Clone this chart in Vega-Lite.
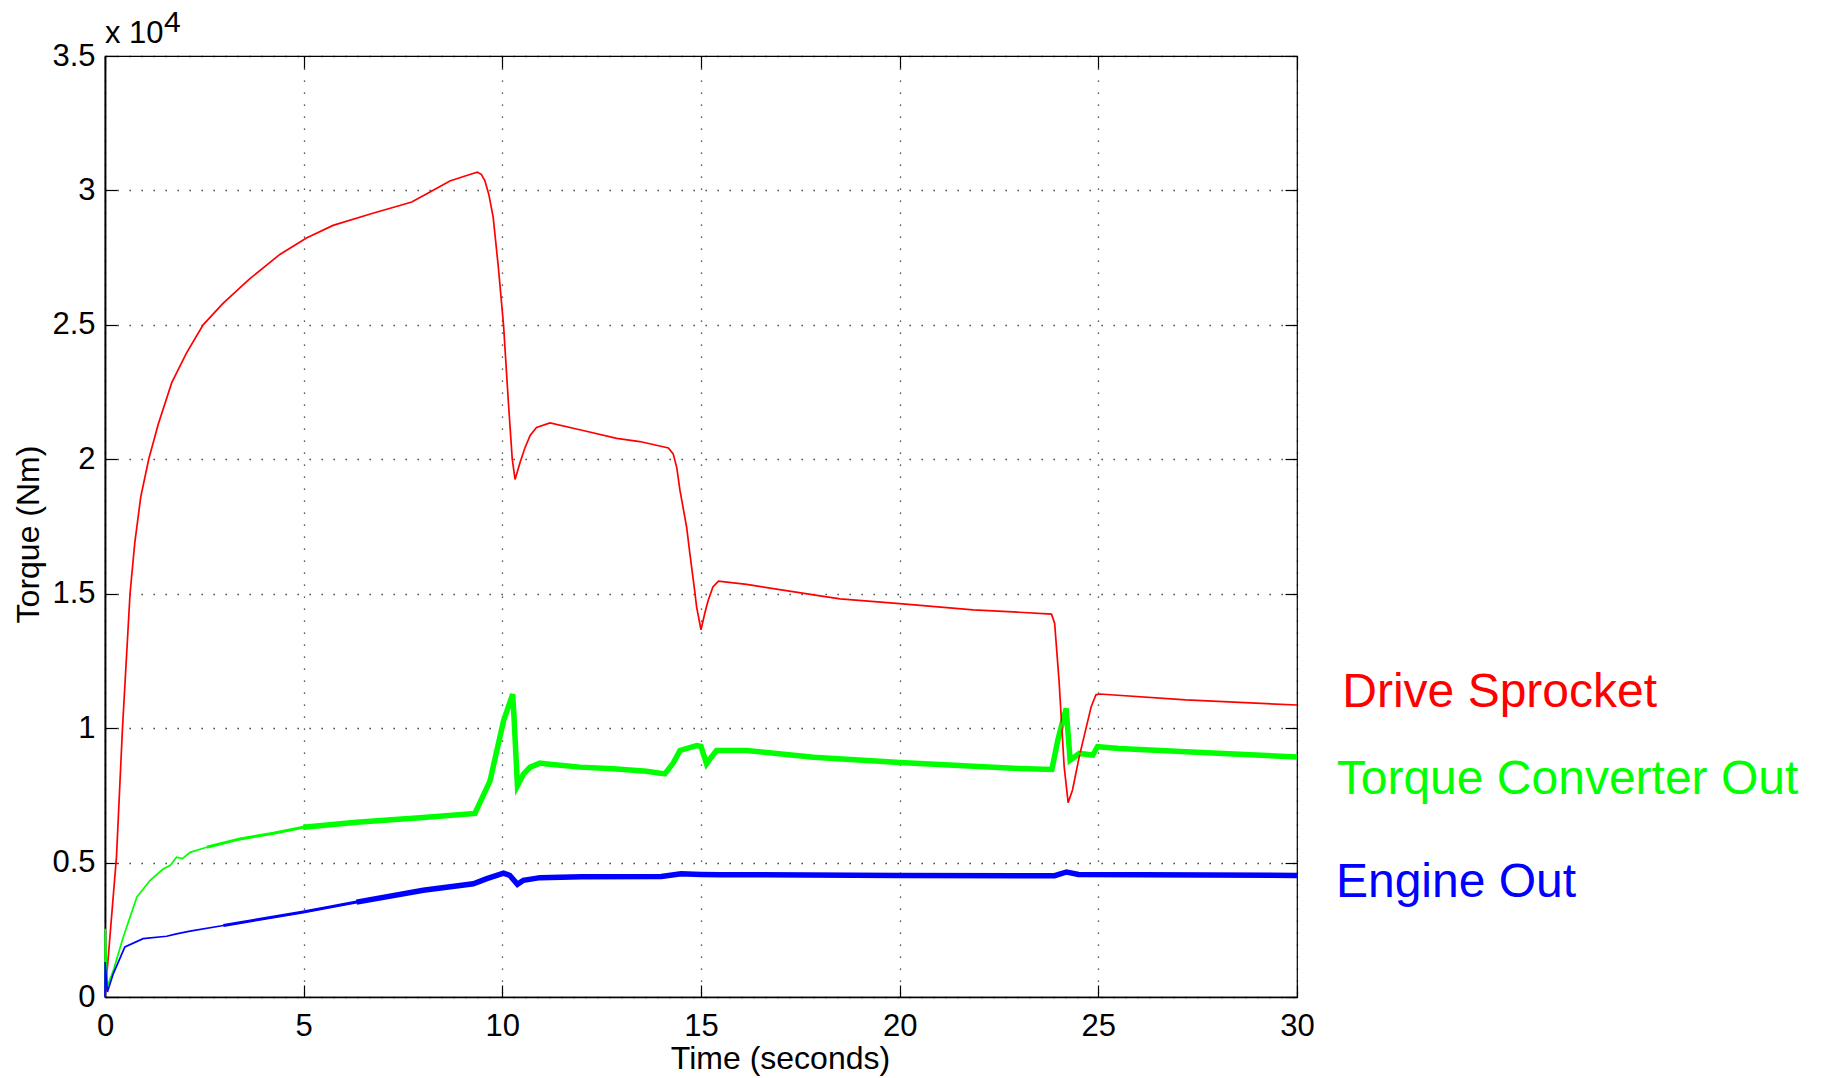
{
  "$schema": "https://vega.github.io/schema/vega-lite/v6.json",
  "width": 1192,
  "height": 941,
  "autosize": {"type": "none"},
  "padding": {"left": 105, "top": 56, "right": 530, "bottom": 81},
  "background": "white",
  "config": {
    "font": "Liberation Sans",
    "view": {"stroke": "#000", "strokeWidth": 1.2},
    "axis": {
      "labelFont": "Liberation Sans", "labelFontSize": 31, "labelColor": "#000",
      "titleFont": "Liberation Sans", "titleFontSize": 32, "titleFontWeight": "normal", "titleColor": "#000",
      "domainColor": "#000", "tickColor": "#000", "tickSize": -12, "tickWidth": 1.2,
      "gridColor": "#000", "gridDash": [1.3, 10.7], "gridWidth": 1.3, "gridOpacity": 0.85,
      "labelFlush": false, "labelOverlap": false
    }
  },
  "datasets": {
    "curves": [
      {"series": "Drive Sprocket", "t": 0, "v": 0},
      {"series": "Drive Sprocket", "t": 0.29, "v": 5240},
      {"series": "Drive Sprocket", "t": 0.44, "v": 10000},
      {"series": "Drive Sprocket", "t": 0.63, "v": 15000},
      {"series": "Drive Sprocket", "t": 0.75, "v": 16900},
      {"series": "Drive Sprocket", "t": 0.9, "v": 18600},
      {"series": "Drive Sprocket", "t": 1.1, "v": 20000},
      {"series": "Drive Sprocket", "t": 1.34, "v": 21300},
      {"series": "Drive Sprocket", "t": 1.68, "v": 22850},
      {"series": "Drive Sprocket", "t": 2.05, "v": 23950},
      {"series": "Drive Sprocket", "t": 2.47, "v": 25000},
      {"series": "Drive Sprocket", "t": 2.97, "v": 25800},
      {"series": "Drive Sprocket", "t": 3.64, "v": 26710},
      {"series": "Drive Sprocket", "t": 4.4, "v": 27620},
      {"series": "Drive Sprocket", "t": 5.07, "v": 28230},
      {"series": "Drive Sprocket", "t": 5.74, "v": 28700},
      {"series": "Drive Sprocket", "t": 6.74, "v": 29150},
      {"series": "Drive Sprocket", "t": 7.42, "v": 29440},
      {"series": "Drive Sprocket", "t": 7.72, "v": 29570},
      {"series": "Drive Sprocket", "t": 8.18, "v": 29940},
      {"series": "Drive Sprocket", "t": 8.68, "v": 30350},
      {"series": "Drive Sprocket", "t": 9.2, "v": 30600},
      {"series": "Drive Sprocket", "t": 9.37, "v": 30680},
      {"series": "Drive Sprocket", "t": 9.47, "v": 30600},
      {"series": "Drive Sprocket", "t": 9.56, "v": 30370},
      {"series": "Drive Sprocket", "t": 9.66, "v": 29850},
      {"series": "Drive Sprocket", "t": 9.77, "v": 29000},
      {"series": "Drive Sprocket", "t": 9.9, "v": 27140},
      {"series": "Drive Sprocket", "t": 10.03, "v": 25000},
      {"series": "Drive Sprocket", "t": 10.15, "v": 22170},
      {"series": "Drive Sprocket", "t": 10.25, "v": 20000},
      {"series": "Drive Sprocket", "t": 10.32, "v": 19250},
      {"series": "Drive Sprocket", "t": 10.45, "v": 19900},
      {"series": "Drive Sprocket", "t": 10.57, "v": 20430},
      {"series": "Drive Sprocket", "t": 10.7, "v": 20890},
      {"series": "Drive Sprocket", "t": 10.86, "v": 21180},
      {"series": "Drive Sprocket", "t": 11.2, "v": 21350},
      {"series": "Drive Sprocket", "t": 11.95, "v": 21100},
      {"series": "Drive Sprocket", "t": 12.88, "v": 20780},
      {"series": "Drive Sprocket", "t": 13.46, "v": 20660},
      {"series": "Drive Sprocket", "t": 14.18, "v": 20420},
      {"series": "Drive Sprocket", "t": 14.3, "v": 20200},
      {"series": "Drive Sprocket", "t": 14.39, "v": 19690},
      {"series": "Drive Sprocket", "t": 14.47, "v": 18850},
      {"series": "Drive Sprocket", "t": 14.64, "v": 17460},
      {"series": "Drive Sprocket", "t": 14.72, "v": 16490},
      {"series": "Drive Sprocket", "t": 14.85, "v": 15000},
      {"series": "Drive Sprocket", "t": 14.89, "v": 14500},
      {"series": "Drive Sprocket", "t": 15.0, "v": 13660},
      {"series": "Drive Sprocket", "t": 15.1, "v": 14300},
      {"series": "Drive Sprocket", "t": 15.18, "v": 14750},
      {"series": "Drive Sprocket", "t": 15.3, "v": 15250},
      {"series": "Drive Sprocket", "t": 15.44, "v": 15470},
      {"series": "Drive Sprocket", "t": 16.15, "v": 15350},
      {"series": "Drive Sprocket", "t": 16.82, "v": 15190},
      {"series": "Drive Sprocket", "t": 18.0, "v": 14920},
      {"series": "Drive Sprocket", "t": 18.5, "v": 14810},
      {"series": "Drive Sprocket", "t": 20, "v": 14630},
      {"series": "Drive Sprocket", "t": 21.85, "v": 14400},
      {"series": "Drive Sprocket", "t": 23.01, "v": 14310},
      {"series": "Drive Sprocket", "t": 23.82, "v": 14240},
      {"series": "Drive Sprocket", "t": 23.9, "v": 13900},
      {"series": "Drive Sprocket", "t": 24.01, "v": 11790},
      {"series": "Drive Sprocket", "t": 24.14, "v": 8570},
      {"series": "Drive Sprocket", "t": 24.24, "v": 7230},
      {"series": "Drive Sprocket", "t": 24.35, "v": 7700},
      {"series": "Drive Sprocket", "t": 24.52, "v": 8940},
      {"series": "Drive Sprocket", "t": 24.82, "v": 10800},
      {"series": "Drive Sprocket", "t": 24.94, "v": 11240},
      {"series": "Drive Sprocket", "t": 25.03, "v": 11270},
      {"series": "Drive Sprocket", "t": 27.2, "v": 11050},
      {"series": "Drive Sprocket", "t": 30, "v": 10860},

      {"series": "Torque Converter Out", "t": 0, "v": 0},
      {"series": "Torque Converter Out", "t": 0.005, "v": 2540},
      {"series": "Torque Converter Out", "t": 0.06, "v": 400},
      {"series": "Torque Converter Out", "t": 0.21, "v": 990},
      {"series": "Torque Converter Out", "t": 0.46, "v": 2230},
      {"series": "Torque Converter Out", "t": 0.8, "v": 3710},
      {"series": "Torque Converter Out", "t": 1.13, "v": 4330},
      {"series": "Torque Converter Out", "t": 1.47, "v": 4770},
      {"series": "Torque Converter Out", "t": 1.64, "v": 4890},
      {"series": "Torque Converter Out", "t": 1.8, "v": 5200},
      {"series": "Torque Converter Out", "t": 1.95, "v": 5150},
      {"series": "Torque Converter Out", "t": 2.14, "v": 5380},
      {"series": "Torque Converter Out", "t": 2.56, "v": 5570},
      {"series": "Torque Converter Out", "t": 3.4, "v": 5880},
      {"series": "Torque Converter Out", "t": 4.24, "v": 6090},
      {"series": "Torque Converter Out", "t": 4.99, "v": 6310},
      {"series": "Torque Converter Out", "t": 6.33, "v": 6500},
      {"series": "Torque Converter Out", "t": 8.01, "v": 6680},
      {"series": "Torque Converter Out", "t": 9.31, "v": 6830},
      {"series": "Torque Converter Out", "t": 9.69, "v": 8040},
      {"series": "Torque Converter Out", "t": 10.03, "v": 10270},
      {"series": "Torque Converter Out", "t": 10.26, "v": 11260},
      {"series": "Torque Converter Out", "t": 10.29, "v": 10520},
      {"series": "Torque Converter Out", "t": 10.38, "v": 7860},
      {"series": "Torque Converter Out", "t": 10.53, "v": 8290},
      {"series": "Torque Converter Out", "t": 10.7, "v": 8550},
      {"series": "Torque Converter Out", "t": 10.95, "v": 8700},
      {"series": "Torque Converter Out", "t": 11.12, "v": 8670},
      {"series": "Torque Converter Out", "t": 11.95, "v": 8550},
      {"series": "Torque Converter Out", "t": 12.79, "v": 8490},
      {"series": "Torque Converter Out", "t": 13.63, "v": 8400},
      {"series": "Torque Converter Out", "t": 14.09, "v": 8300},
      {"series": "Torque Converter Out", "t": 14.3, "v": 8700},
      {"series": "Torque Converter Out", "t": 14.47, "v": 9170},
      {"series": "Torque Converter Out", "t": 14.89, "v": 9350},
      {"series": "Torque Converter Out", "t": 15.0, "v": 9320},
      {"series": "Torque Converter Out", "t": 15.14, "v": 8670},
      {"series": "Torque Converter Out", "t": 15.25, "v": 8900},
      {"series": "Torque Converter Out", "t": 15.39, "v": 9170},
      {"series": "Torque Converter Out", "t": 16.15, "v": 9170},
      {"series": "Torque Converter Out", "t": 17.83, "v": 8920},
      {"series": "Torque Converter Out", "t": 20, "v": 8720},
      {"series": "Torque Converter Out", "t": 23.01, "v": 8500},
      {"series": "Torque Converter Out", "t": 23.83, "v": 8460},
      {"series": "Torque Converter Out", "t": 23.98, "v": 9550},
      {"series": "Torque Converter Out", "t": 24.1, "v": 10240},
      {"series": "Torque Converter Out", "t": 24.19, "v": 10730},
      {"series": "Torque Converter Out", "t": 24.29, "v": 8810},
      {"series": "Torque Converter Out", "t": 24.52, "v": 9060},
      {"series": "Torque Converter Out", "t": 24.86, "v": 9000},
      {"series": "Torque Converter Out", "t": 24.98, "v": 9310},
      {"series": "Torque Converter Out", "t": 25.53, "v": 9240},
      {"series": "Torque Converter Out", "t": 27.21, "v": 9120},
      {"series": "Torque Converter Out", "t": 30, "v": 8930},

      {"series": "Engine Out", "t": 0, "v": 0},
      {"series": "Engine Out", "t": 0.005, "v": 1300},
      {"series": "Engine Out", "t": 0.06, "v": 190},
      {"series": "Engine Out", "t": 0.21, "v": 870},
      {"series": "Engine Out", "t": 0.5, "v": 1860},
      {"series": "Engine Out", "t": 0.96, "v": 2170},
      {"series": "Engine Out", "t": 1.55, "v": 2260},
      {"series": "Engine Out", "t": 1.8, "v": 2350},
      {"series": "Engine Out", "t": 2.14, "v": 2450},
      {"series": "Engine Out", "t": 2.98, "v": 2660},
      {"series": "Engine Out", "t": 4.99, "v": 3160},
      {"series": "Engine Out", "t": 6.33, "v": 3530},
      {"series": "Engine Out", "t": 8.01, "v": 3970},
      {"series": "Engine Out", "t": 9.27, "v": 4210},
      {"series": "Engine Out", "t": 9.61, "v": 4400},
      {"series": "Engine Out", "t": 10.03, "v": 4610},
      {"series": "Engine Out", "t": 10.19, "v": 4520},
      {"series": "Engine Out", "t": 10.38, "v": 4190},
      {"series": "Engine Out", "t": 10.53, "v": 4340},
      {"series": "Engine Out", "t": 10.95, "v": 4440},
      {"series": "Engine Out", "t": 12, "v": 4470},
      {"series": "Engine Out", "t": 14, "v": 4480},
      {"series": "Engine Out", "t": 14.5, "v": 4580},
      {"series": "Engine Out", "t": 15, "v": 4560},
      {"series": "Engine Out", "t": 15.5, "v": 4550},
      {"series": "Engine Out", "t": 20, "v": 4520},
      {"series": "Engine Out", "t": 23.9, "v": 4510},
      {"series": "Engine Out", "t": 24.2, "v": 4650},
      {"series": "Engine Out", "t": 24.5, "v": 4560},
      {"series": "Engine Out", "t": 30, "v": 4520}
    ],
    "labels": [
      {"series": "Drive Sprocket", "t": 31.14, "v": 10786},
      {"series": "Torque Converter Out", "t": 31.0, "v": 7550},
      {"series": "Engine Out", "t": 30.98, "v": 3731}
    ]
  },
  "layer": [
    {
      "data": {"name": "curves"},
      "transform": [{"filter": "datum.series != 'Drive Sprocket' && datum.t >= 2.5"}],
      "mark": {"type": "line", "strokeWidth": 3},
      "encoding": {
        "x": {"field": "t", "type": "quantitative",
              "scale": {"domain": [0, 30], "nice": false, "zero": false},
              "axis": {"orient": "top", "labels": false, "grid": false, "domain": false, "title": null,
                       "values": [0, 5, 10, 15, 20, 25, 30]}},
        "y": {"field": "v", "type": "quantitative",
              "scale": {"domain": [0, 35000], "nice": false},
              "axis": {"orient": "right", "labels": false, "grid": false, "domain": false, "title": null,
                       "values": [0, 5000, 10000, 15000, 20000, 25000, 30000, 35000]}},
        "color": {"field": "series", "type": "nominal",
                  "scale": {"domain": ["Drive Sprocket", "Torque Converter Out", "Engine Out"],
                            "range": ["#ff0000", "#00ff00", "#0000ff"]},
                  "legend": null}
      }
    },
    {
      "data": {"name": "curves"},
      "transform": [{"filter": "(datum.series == 'Torque Converter Out' && datum.t >= 4.9) || (datum.series == 'Engine Out' && datum.t >= 6.3)"}],
      "mark": {"type": "line", "strokeWidth": 5.5},
      "encoding": {
        "x": {"field": "t", "type": "quantitative", "axis": null},
        "y": {"field": "v", "type": "quantitative", "axis": null},
        "color": {"field": "series", "type": "nominal", "legend": null}
      }
    },
    {
      "data": {"name": "curves"},
      "mark": {"type": "line", "strokeWidth": 1.7},
      "encoding": {
        "x": {"field": "t", "type": "quantitative",
              "axis": {"orient": "bottom", "values": [0, 5, 10, 15, 20, 25, 30], "grid": true,
                       "labelPadding": 26, "domainWidth": 1.5,
                       "title": "Time (seconds)", "titleX": 675, "titleY": 71, "titleBaseline": "alphabetic"}},
        "y": {"field": "v", "type": "quantitative",
              "axis": {"orient": "left", "values": [0, 5000, 10000, 15000, 20000, 25000, 30000, 35000], "grid": true,
                       "labelExpr": "datum.value / 10000 + ''",
                       "labelPadding": 22, "domainWidth": 1.8,
                       "title": "Torque (Nm)", "titleAngle": 270, "titleX": -66.5, "titleY": 478,
                       "titleBaseline": "alphabetic"}},
        "color": {"field": "series", "type": "nominal", "legend": null}
      }
    },
    {
      "data": {"name": "labels"},
      "mark": {"type": "text", "align": "left", "baseline": "alphabetic", "fontSize": 48, "font": "Liberation Sans"},
      "encoding": {
        "x": {"field": "t", "type": "quantitative", "axis": null},
        "y": {"field": "v", "type": "quantitative", "axis": null},
        "text": {"field": "series"},
        "color": {"field": "series", "type": "nominal", "legend": null}
      }
    },
    {
      "data": {"values": [{"label": "x 10"}]},
      "mark": {"type": "text", "align": "left", "baseline": "alphabetic", "fontSize": 31, "font": "Liberation Sans", "color": "#000", "dy": -12.7},
      "encoding": {
        "x": {"datum": 0, "type": "quantitative", "axis": null},
        "y": {"datum": 35000, "type": "quantitative", "axis": null},
        "text": {"field": "label"}
      }
    },
    {
      "data": {"values": [{"label": "4"}]},
      "mark": {"type": "text", "align": "left", "baseline": "alphabetic", "fontSize": 30, "font": "Liberation Sans", "color": "#000", "dx": 59, "dy": -24.3},
      "encoding": {
        "x": {"datum": 0, "type": "quantitative", "axis": null},
        "y": {"datum": 35000, "type": "quantitative", "axis": null},
        "text": {"field": "label"}
      }
    }
  ],
  "resolve": {"axis": {"x": "independent", "y": "independent"}}
}
